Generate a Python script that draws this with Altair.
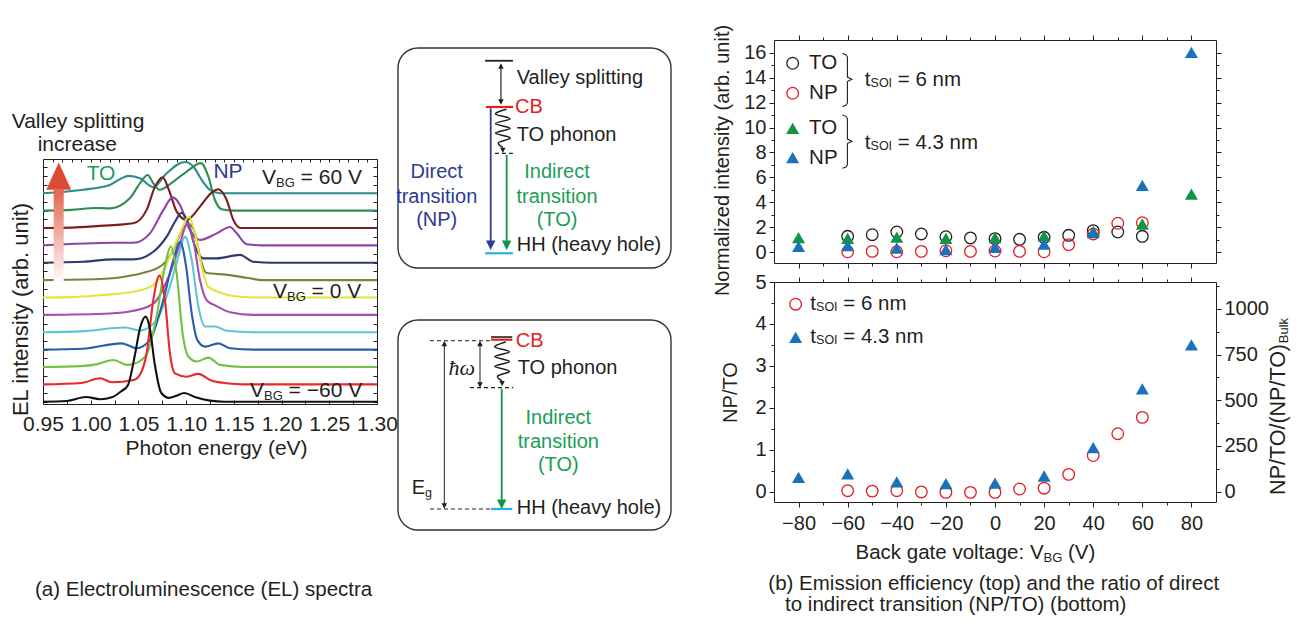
import altair as alt
import pandas as pd

W, H = 1285, 608
FONT = "Liberation Sans"
INK = "#231f20"

# ======================= DATA =======================
# (a) EL spectra, one curve per back-gate voltage (bottom -> top), offset by 1 unit each
V_STEPS = [-60, -50, -40, -30, -20, -10, 0, 10, 20, 30, 40, 50, 60]

E_M60 = [0.95, 0.975, 0.995, 1.010, 1.022, 1.032, 1.039, 1.046, 1.052, 1.0575, 1.062, 1.067, 1.074, 1.082, 1.090, 1.098, 1.110, 1.125, 1.140, 1.30]
H_M60 = [0.0, 0.04, 0.27, 0.14, 0.25, 0.60, 0.95, 2.60, 4.30, 4.90, 4.20, 2.20, 0.50, 0.22, 0.35, 0.50, 0.25, 0.06, 0.0, 0.0]
E_M50 = [0.95, 0.990, 1.010, 1.022, 1.045, 1.052, 1.0586, 1.0656, 1.0719, 1.0778, 1.083, 1.0883, 1.1006, 1.1128, 1.125, 1.1425, 1.160, 1.30]
H_M50 = [0.0, 0.08, 0.35, 0.12, 0.25, 0.60, 1.79, 4.86, 6.26, 4.86, 1.79, 0.63, 0.44, 0.60, 0.25, 0.06, 0.0, 0.0]
E_M40 = [0.95, 0.990, 1.006, 1.024, 1.038, 1.052, 1.060, 1.069, 1.0778, 1.0838, 1.090, 1.0963, 1.1023, 1.111, 1.1233, 1.1355, 1.160, 1.30]
H_M40 = [0.0, 0.05, 0.15, 0.40, 0.12, 0.35, 0.90, 2.90, 5.80, 6.95, 5.40, 1.94, 0.60, 0.31, 0.54, 0.12, 0.0, 0.0]
E_M30 = [0.95, 0.992, 1.0324, 1.0481, 1.0621, 1.0761, 1.0866, 1.0936, 1.0999, 1.1058, 1.1117, 1.1198, 1.1337, 1.146, 1.170, 1.30]
H_M30 = [0.0, 0.05, 0.36, 0.08, 0.56, 2.86, 5.16, 6.20, 4.80, 2.09, 0.56, 0.17, 0.36, 0.08, 0.0, 0.0]
E_M20 = [0.95, 0.990, 1.0359, 1.0516, 1.0691, 1.083, 1.0918, 1.0988, 1.1058, 1.1128, 1.1198, 1.1302, 1.1425, 1.170, 1.30]
H_M20 = [0.0, 0.05, 0.27, 0.10, 0.71, 2.63, 4.36, 5.50, 4.16, 1.48, 0.33, 0.33, 0.08, 0.0, 0.0]
E_M10 = [0.95, 1.020, 1.0447, 1.0656, 1.083, 1.0936, 1.1012, 1.1075, 1.1145, 1.1215, 1.132, 1.146, 1.170, 1.30]
H_M10 = [0.0, 0.08, 0.23, 0.65, 2.38, 4.10, 5.26, 4.30, 2.00, 0.84, 0.50, 0.15, 0.0, 0.0]
E_0 = [0.95, 0.980, 1.0097, 1.0447, 1.0656, 1.083, 1.0936, 1.103, 1.1093, 1.1163, 1.1233, 1.1355, 1.1495, 1.170, 1.30]
H_0 = [0.0, 0.02, 0.13, 0.33, 0.71, 2.34, 3.69, 4.65, 3.69, 1.77, 0.61, 0.29, 0.08, 0.0, 0.0]
E_P10 = [0.95, 1.010, 1.0447, 1.0726, 1.0866, 1.0953, 1.1023, 1.1093, 1.1145, 1.121, 1.143, 1.165, 1.180, 1.30]
H_P10 = [0.0, 0.06, 0.29, 0.77, 1.73, 2.78, 3.26, 2.70, 1.34, 0.42, 0.30, 0.12, 0.0, 0.0]
E_P20 = [0.95, 0.992, 1.0237, 1.045, 1.0656, 1.0796, 1.0883, 1.0953, 1.1023, 1.1093, 1.118, 1.132, 1.1564, 1.1704, 1.190, 1.30]
H_P20 = [0.0, 0.06, 0.19, 0.19, 0.63, 1.50, 2.36, 2.88, 2.26, 0.92, 0.25, 0.25, 0.45, 0.06, 0.0, 0.0]
E_P30 = [0.95, 1.0254, 1.045, 1.0621, 1.0761, 1.0859, 1.0936, 1.1023, 1.1145, 1.132, 1.146, 1.153, 1.1634, 1.180, 1.30]
H_P30 = [0.0, 0.15, 0.15, 0.69, 2.03, 2.76, 2.32, 1.07, 0.31, 0.69, 1.06, 0.69, 0.06, 0.0, 0.0]
E_P40 = [0.95, 0.980, 1.0097, 1.0447, 1.0586, 1.0674, 1.0754, 1.0813, 1.0901, 1.1006, 1.1145, 1.127, 1.1337, 1.1425, 1.1495, 1.157, 1.30]
H_P40 = [0.0, 0.02, 0.12, 0.27, 1.04, 2.38, 2.92, 2.28, 0.94, 0.46, 1.23, 2.05, 2.23, 1.61, 0.46, 0.0, 0.0]
E_P50 = [0.95, 0.980, 1.005, 1.020, 1.041, 1.0516, 1.0597, 1.0656, 1.072, 1.0866, 1.1006, 1.1156, 1.1233, 1.1302, 1.1372, 1.150, 1.30]
H_P50 = [0.0, 0.04, 0.15, 0.13, 0.71, 1.57, 2.05, 1.57, 1.20, 1.67, 2.25, 2.73, 1.96, 0.61, 0.08, 0.0, 0.0]
E_P60 = [0.95, 0.990, 1.020, 1.032, 1.0394, 1.0516, 1.0656, 1.0796, 1.0988, 1.1075, 1.1163, 1.125, 1.135, 1.30]
H_P60 = [0.0, 0.19, 0.48, 0.85, 1.00, 0.86, 0.35, 1.15, 1.80, 1.54, 0.77, 0.19, 0.0, 0.0]

SPEC_E = [E_M60, E_M50, E_M40, E_M30, E_M20, E_M10, E_0, E_P10, E_P20, E_P30, E_P40, E_P50, E_P60]
SPEC_H = [H_M60, H_M50, H_M40, H_M30, H_M20, H_M10, H_0, H_P10, H_P20, H_P30, H_P40, H_P50, H_P60]
ENERGY_TICKS = [0.95, 1.00, 1.05, 1.10, 1.15, 1.20, 1.25, 1.30]

# (b) top: normalized intensity vs back-gate voltage
VBG_6 = [-60, -50, -40, -30, -20, -10, 0, 10, 20, 30, 40, 50, 60]
TO_6 = [1.26, 1.39, 1.61, 1.45, 1.23, 1.13, 1.07, 1.02, 1.18, 1.34, 1.72, 1.61, 1.26]
NP_6 = [0.02, 0.05, 0.02, 0.05, 0.10, 0.05, 0.08, 0.05, 0.02, 0.59, 1.45, 2.31, 2.35]
VBG_43 = [-80, -60, -40, -20, 0, 20, 40, 60, 80]
TO_43 = [1.15, 1.10, 1.20, 1.10, 1.15, 1.30, 1.65, 2.25, 4.66]
NP_43 = [0.45, 0.52, 0.32, 0.20, 0.38, 0.64, 1.55, 5.36, 16.05]
# (b) bottom: NP/TO ratio
RATIO_6 = [0.02, 0.01, 0.02, -0.01, -0.02, -0.02, -0.02, 0.06, 0.08, 0.41, 0.86, 1.38, 1.77]
RATIO_43 = [0.34, 0.42, 0.23, 0.19, 0.20, 0.37, 1.05, 2.45, 3.50]

VBG_TICKS = [-80, -60, -40, -20, 0, 20, 40, 60, 80]
INT_TICKS = [0, 2, 4, 6, 8, 10, 12, 14, 16]
RATIO_TICKS = [0, 1, 2, 3, 4, 5]
BULK_TICKS = [0, 250, 500, 750, 1000]
BULK_FACTOR = 229.5  # (NP/TO)/(NP/TO)_Bulk per unit NP/TO

# ======================= STYLE / LAYOUT =======================
CURVE_COLORS = ["#111111", "#e8282b", "#74c043", "#2a5caa", "#5cc6d6", "#a24fb0", "#e3e43c",
                "#7f7f3f", "#2e3a6b", "#8b44ac", "#7b1e22", "#2f8b51", "#2b8c8c"]
GREEN_T = "#1a9e55"
BLUE_T = "#2e3a94"
RED = "#e31e24"
GREEN_M = "#129447"
BLUE_M = "#1b72bb"
CYAN = "#29b1e6"

PA = dict(xd=[0.95, 1.30], xr=[35, 369], yd=[-0.132, 13.97], yr=[396, 151])
PT = dict(xd=[-90, 90], xr=[766, 1208], yd=[-0.884, 17.04], yr=[255, 32])
PB = dict(xd=[-90, 90], xr=[766, 1208], yd=[-0.25, 5.0], yr=[494, 274])
PK = dict(xd=[-90, 90], xr=[766, 1208], yd=[-0.25 * BULK_FACTOR, 5.0 * BULK_FACTOR], yr=[494, 274])
D1 = dict(xd=[0, 1], xr=[390, 663], yd=[0, 1], yr=[260, 40])
D2 = dict(xd=[0, 1], xr=[390, 663], yd=[0, 1], yr=[522, 312])

CW = {'V': .667, 'B': .667, 'G': .778, ' ': .278, '=': .584, '−': .584, '.': .278, 't': .278, 'S': .667,
      'O': .778, 'I': .278, 'n': .556, 'm': .833, 'E': .667, 'g': .556, 'N': .722, 'P': .667, '/': .278,
      'T': .611, '(': .333, ')': .333, 'u': .556, 'l': .222, 'k': .5, 'a': .556, 'c': .5, 'e': .556,
      'o': .556, 'v': .5, ':': .278, 'r': .333, 'h': .556, 'y': .5, 's': .5, 'p': .556, 'i': .222, 'd': .556}


def tw(s, size):
    return sum(CW.get(c, 0.556) for c in s) * size


def X(p, f="x", axis=None):
    return alt.X(f"{f}:Q", scale=alt.Scale(domain=p["xd"], range=p["xr"], nice=False, zero=False), axis=axis)


def Y(p, f="y", axis=None):
    return alt.Y(f"{f}:Q", scale=alt.Scale(domain=p["yd"], range=p["yr"], nice=False, zero=False), axis=axis)


def axis(orient, at, values, size, labels=False, domain=True, **kw):
    off = {"bottom": at - H, "top": -at, "left": -at, "right": at - W}[orient]
    d = dict(orient=orient, offset=off, values=values, grid=False, domain=domain, labels=labels,
             labelOverlap=False, labelFlush=False, labelBound=False, title="",
             domainColor=INK, tickColor=INK, domainWidth=1, tickWidth=1)
    if size > 0:
        d.update(ticks=True, tickSize=size)
    else:
        d.update(ticks=False)
    d.update(kw)
    return alt.Axis(**d)


def axis_layer(p, xaxis=None, yaxis=None):
    df = pd.DataFrame({"x": [p["xd"][0]], "y": [p["yd"][0]]})
    return alt.Chart(df).mark_point(opacity=0).encode(x=X(p, axis=xaxis), y=Y(p, axis=yaxis))


def txt(p, x, y, text, size, color=INK, align="left", dx=0, dy=0, angle=0, **kw):
    df = pd.DataFrame({"x": [x], "y": [y]})
    props = dict(text=text, fontSize=size, color=color, align=align, baseline="middle", font=FONT)
    if dx:
        props["dx"] = dx
    if dy:
        props["dy"] = dy
    if angle:
        props["angle"] = angle
    props.update(kw)
    return alt.Chart(df).mark_text(**props).encode(x=X(p), y=Y(p))


def rich(p, x, y, parts, color=INK, anchor="left", angle=0):
    total = sum(tw(t, s) for t, s, _ in parts)
    cum = {"left": 0.0, "center": -total / 2, "right": -total}[anchor]
    out = []
    for t, s, dy in parts:
        lead = len(t) - len(t.lstrip())
        out.append(txt(p, x, y, t.strip(), s, color=color, dx=round(cum + tw(t[:lead], s), 1), dy=dy, angle=angle))
        cum += tw(t, s)
    return out


def seg(p, x1, x2, y1, y2, color=INK, width=1.2, dash=None):
    df = pd.DataFrame({"x": [x1], "x2": [x2], "y": [y1], "y2": [y2]})
    props = dict(color=color, strokeWidth=width)
    if dash:
        props["strokeDash"] = dash
    return alt.Chart(df).mark_rule(**props).encode(x=X(p), x2="x2:Q", y=Y(p), y2="y2:Q")


def head(p, x, y, direction, color, size):
    shape = "M-1,-1L1,-1L0,1Z" if direction == "down" else "M-1,1L1,1L0,-1Z"
    df = pd.DataFrame({"x": [x], "y": [y]})
    return alt.Chart(df).mark_point(shape=shape, filled=True, size=size, color=color, opacity=1,
                                    strokeWidth=0).encode(x=X(p), y=Y(p))


WAVE_SHAPE = [0.5, -1, 1, -1, 1, -1, 1, -0.6, 0]


def wave(p, xc, y_top, y_bot, amp):
    n = len(WAVE_SHAPE)
    df = pd.DataFrame({"x": [xc + amp * s for s in WAVE_SHAPE],
                       "y": [y_top + (y_bot - y_top) * k / (n - 1) for k in range(n)],
                       "o": list(range(n))})
    return alt.Chart(df).mark_line(color=INK, strokeWidth=1.5, interpolate="cardinal").encode(
        x=X(p), y=Y(p), order="o:Q")


def box(p):
    df = pd.DataFrame({"x": [0], "x2": [1], "y": [0], "y2": [1]})
    return alt.Chart(df).mark_rect(fill="transparent", stroke="#333333", strokeWidth=1.4,
                                   cornerRadius=20).encode(x=X(p), x2="x2:Q", y=Y(p), y2="y2:Q")


def pts(p, xs, ys, shape, color, filled, size):
    df = pd.DataFrame({"x": xs, "y": ys})
    props = dict(shape=shape, filled=filled, color=color, size=size, opacity=1)
    props["strokeWidth"] = 0 if filled else 1.3
    return alt.Chart(df).mark_point(**props).encode(x=X(p), y=Y(p))


def brace(p, xh, xv, xn, top, nub, bot):
    s = 0.07 * (top - bot)
    xs = [xh, xv - 0.3 * (xv - xh), xv, xv, xn, xv, xv, xv - 0.3 * (xv - xh), xh]
    ys = [top, top - 0.35 * s, top - s, nub + 0.6 * s, nub, nub - 0.6 * s, bot + s, bot + 0.35 * s, bot]
    df = pd.DataFrame({"x": xs, "y": ys, "o": list(range(len(xs)))})
    return alt.Chart(df).mark_line(color=INK, strokeWidth=1.1).encode(x=X(p), y=Y(p), order="o:Q")


CIRC, TRI = 135, 170

# ======================= PANEL (a) =======================
A = []
for i in reversed(range(len(V_STEPS))):
    df = pd.DataFrame({"E": SPEC_E[i], "I": [i + h for h in SPEC_H[i]]})
    A.append(alt.Chart(df).mark_line(color=CURVE_COLORS[i], strokeWidth=2.1, interpolate="monotone")
             .encode(x=X(PA, "E"), y=Y(PA, "I")))

# gradient arrow "valley splitting increase"
A.append(alt.Chart(pd.DataFrame({"x": [0.9612], "x2": [0.9717], "y": [6.85], "y2": [12.2]}))
         .mark_rect(color={"gradient": "linear", "x1": 0, "y1": 0, "x2": 0, "y2": 1,
                           "stops": [{"offset": 0, "color": "#e2654f"}, {"offset": 1, "color": "#ffffff"}]})
         .encode(x=X(PA), x2="x2:Q", y=Y(PA), y2="y2:Q"))
A.append(alt.Chart(pd.DataFrame({"x": [0.9665], "y": [12.98]}))
         .mark_point(shape="M0,-1.09L1,1.09L-1,1.09Z", filled=True, size=625, color="#df4a36", opacity=1, strokeWidth=0)
         .encode(x=X(PA), y=Y(PA)))

A.append(txt(PA, 0.9867, 16.12, "Valley splitting", 21, align="center"))
A.append(txt(PA, 0.9860, 14.78, "increase", 21, align="center"))
A.append(txt(PA, 1.0108, 13.11, "TO", 21, color=GREEN_T, align="center"))
A.append(txt(PA, 1.1439, 13.24, "NP", 21, color=BLUE_T, align="center"))
A += rich(PA, 1.1795, 12.86, [("V", 21, 0), ("BG", 13, 5), (" = 60 V", 21, 0)])
A += rich(PA, 1.1910, 6.33, [("V", 21, 0), ("BG", 13, 5), (" = 0 V", 21, 0)])
A += rich(PA, 1.1669, 0.62, [("V", 21, 0), ("BG", 13, 5), (" = −60 V", 21, 0)])
A.append(txt(PA, 0.9416, -10.84, "(a) Electroluminescence (EL) spectra", 20.5))

A_XB = [round(0.95 + 0.025 * k, 3) for k in range(15)]
A_XT = [round(0.95 + 0.01 * k, 2) for k in range(36)]
A_Y = [0.5 * k for k in range(28)]
A.append(axis_layer(PA, xaxis=axis("bottom", 396, ENERGY_TICKS, 0, labels=True, format=".2f",
                                     labelFontSize=21, labelPadding=9, title="Photon energy (eV)",
                                     titleFontSize=21, titleX=208, titleY=44, titleBaseline="middle")))
A.append(axis_layer(PA, xaxis=axis("top", 396, A_XB, 4, domain=False)))
A.append(axis_layer(PA, xaxis=axis("bottom", 151, A_XT, 3)))
A.append(axis_layer(PA, yaxis=axis("left", 35, [], 0, title="EL intensity (arb. unit)", titleFontSize=22,
                                   titleX=-23, titleY=301, titleBaseline="middle", titleAngle=270,
                                   titleAlign="center")))
A.append(axis_layer(PA, yaxis=axis("right", 35, A_Y, 4, domain=False)))
A.append(axis_layer(PA, yaxis=axis("left", 369, A_Y, 4)))
panel_a = alt.layer(*A).resolve_axis(x="independent", y="independent")

# ======================= DIAGRAMS =======================
DG = []
# box 1: valley splitting / direct & indirect transitions
DG.append(box(D1))
DG.append(seg(D1, 0.319, 0.421, 0.942, 0.942, INK, 1.8))
DG.append(seg(D1, 0.377, 0.377, 0.918, 0.7545, INK, 1.2))
DG.append(head(D1, 0.377, 0.918, "up", INK, 30))
DG.append(head(D1, 0.377, 0.7545, "down", INK, 30))
DG.append(seg(D1, 0.322, 0.422, 0.732, 0.732, RED, 2.2))
DG.append(wave(D1, 0.384, 0.722, 0.548, 0.027))
DG.append(head(D1, 0.384, 0.535, "down", INK, 28))
DG.append(seg(D1, 0.355, 0.422, 0.521, 0.521, INK, 1.3, dash=[4, 3]))
DG.append(seg(D1, 0.3396, 0.3396, 0.726, 0.11, BLUE_T, 1.8))
DG.append(head(D1, 0.3396, 0.103, "down", BLUE_T, 90))
DG.append(seg(D1, 0.398, 0.398, 0.514, 0.11, GREEN_M, 1.8))
DG.append(head(D1, 0.398, 0.103, "down", GREEN_M, 90))
DG.append(seg(D1, 0.319, 0.421, 0.067, 0.067, CYAN, 2.2))
DG.append(txt(D1, 0.4348, 0.8623, "Valley splitting", 20))
DG.append(txt(D1, 0.4286, 0.732, "CB", 20, color=RED))
DG.append(txt(D1, 0.4348, 0.6045, "TO phonon", 20))
DG.append(txt(D1, 0.4348, 0.1045, "HH (heavy hole)", 20))
for t, yy in zip(["Direct", "transition", "(NP)"], [0.4377, 0.3241, 0.2182]):
    DG.append(txt(D1, 0.1418, yy, t, 20, color=BLUE_T, align="center"))
for t, yy in zip(["Indirect", "transition", "(TO)"], [0.4377, 0.3241, 0.2182]):
    DG.append(txt(D1, 0.5824, yy, t, 20, color=GREEN_T, align="center"))
diag1 = alt.layer(*DG)

DG2 = []
DG2.append(box(D2))
DG2.append(seg(D2, 0.3407, 0.4187, 0.919, 0.919, INK, 1.6))
DG2.append(seg(D2, 0.3407, 0.4187, 0.9062, 0.9062, RED, 2.2))
DG2.append(seg(D2, 0.1172, 0.3407, 0.9014, 0.9014, INK, 1.0, dash=[4, 3]))
DG2.append(seg(D2, 0.2637, 0.4223, 0.6776, 0.6776, INK, 1.3, dash=[4, 3]))
DG2.append(seg(D2, 0.1172, 0.3407, 0.10, 0.10, INK, 1.0, dash=[4, 3]))
DG2.append(seg(D2, 0.1696, 0.1696, 0.888, 0.114, INK, 1.0))
DG2.append(head(D2, 0.1696, 0.888, "up", INK, 30))
DG2.append(head(D2, 0.1696, 0.114, "down", INK, 30))
DG2.append(seg(D2, 0.3004, 0.3004, 0.888, 0.691, INK, 1.0))
DG2.append(head(D2, 0.3004, 0.888, "up", INK, 30))
DG2.append(head(D2, 0.3004, 0.691, "down", INK, 30))
DG2.append(wave(D2, 0.3813, 0.895, 0.71, 0.027))
DG2.append(head(D2, 0.3813, 0.697, "down", INK, 28))
DG2.append(seg(D2, 0.3799, 0.3799, 0.671, 0.13, GREEN_M, 1.8))
DG2.append(head(D2, 0.3799, 0.123, "down", GREEN_M, 90))
DG2.append(seg(D2, 0.3407, 0.4187, 0.10, 0.10, CYAN, 2.2))
DG2.append(txt(D2, 0.4311, 0.90, "CB", 20, color=RED))
DG2.append(txt(D2, 0.4385, 0.77, "TO phonon", 20))
DG2.append(txt(D2, 0.2333, 0.77, "ħω", 22, align="center", font="Liberation Serif", fontStyle="italic"))
for t, yy in zip(["Indirect", "transition", "(TO)"], [0.5319, 0.4205, 0.3095]):
    DG2.append(txt(D2, 0.5872, yy, t, 20, color=GREEN_T, align="center"))
DG2 += rich(D2, 0.0502, 0.1986, [("E", 20, 0), ("g", 12.5, 5)])
DG2.append(txt(D2, 0.4348, 0.1062, "HH (heavy hole)", 20))
diag2 = alt.layer(*DG2)

# ======================= PANEL (b) top =======================
T = []
T.append(pts(PT, VBG_6, TO_6, "circle", INK, False, CIRC))
T.append(pts(PT, VBG_6, NP_6, "circle", RED, False, CIRC))
T.append(pts(PT, VBG_43, TO_43, "triangle-up", GREEN_M, True, TRI))
T.append(pts(PT, VBG_43, NP_43, "triangle-up", BLUE_M, True, TRI))
# legend
T.append(pts(PT, [-82.4], [15.17], "circle", INK, False, CIRC))
T.append(pts(PT, [-82.4], [12.76], "circle", RED, False, CIRC))
T.append(pts(PT, [-82.4], [9.94], "triangle-up", GREEN_M, True, TRI))
T.append(pts(PT, [-82.4], [7.58], "triangle-up", BLUE_M, True, TRI))
for t, yy in zip(["TO", "NP", "TO", "NP"], [15.17, 12.76, 9.94, 7.58]):
    T.append(txt(PT, -75.7, yy, t, 20.5))
T.append(brace(PT, -62.1, -60.1, -58.3, 15.97, 13.88, 11.68))
T.append(brace(PT, -62.1, -60.1, -58.3, 11.01, 8.90, 6.73))
T += rich(PT, -53.0, 13.83, [("t", 20.5, 0), ("SOI", 12.5, 3), (" = 6 nm", 20.5, 0)])
T += rich(PT, -53.0, 8.74, [("t", 20.5, 0), ("SOI", 12.5, 3), (" = 4.3 nm", 20.5, 0)])

VBG_MINOR = [-70, -50, -30, -10, 10, 30, 50, 70]
INT_MINOR = [1, 3, 5, 7, 9, 11, 13, 15]
T.append(axis_layer(PT, yaxis=axis("left", 766, INT_TICKS, 5, labels=True, labelFontSize=20, labelPadding=3,
                                   title="Normalized intensity (arb. unit)", titleFontSize=20,
                                   titleX=-52, titleY=152, titleBaseline="middle", titleAngle=270,
                                   titleAlign="center")))
T.append(axis_layer(PT, yaxis=axis("left", 766, INT_MINOR, 3, domain=False)))
T.append(axis_layer(PT, yaxis=axis("right", 1208, INT_TICKS, 5)))
T.append(axis_layer(PT, yaxis=axis("right", 1208, INT_MINOR, 3, domain=False)))
T.append(axis_layer(PT, xaxis=axis("bottom", 255, VBG_TICKS, 5)))
T.append(axis_layer(PT, xaxis=axis("bottom", 255, VBG_MINOR, 3, domain=False)))
T.append(axis_layer(PT, xaxis=axis("top", 32, VBG_TICKS, 5)))
T.append(axis_layer(PT, xaxis=axis("top", 32, VBG_MINOR, 3, domain=False)))
panel_t = alt.layer(*T).resolve_axis(x="independent", y="independent")

# ======================= PANEL (b) bottom =======================
B = []
B.append(pts(PB, VBG_6, RATIO_6, "circle", RED, False, CIRC))
B.append(pts(PB, VBG_43, RATIO_43, "triangle-up", BLUE_M, True, TRI))
B.append(pts(PB, [-81.2], [4.47], "circle", RED, False, CIRC))
B.append(pts(PB, [-81.2], [3.68], "triangle-up", BLUE_M, True, TRI))
B += rich(PB, -75.2, 4.47, [("t", 20.5, 0), ("SOI", 12.5, 3), (" = 6 nm", 20.5, 0)])
B += rich(PB, -75.2, 3.68, [("t", 20.5, 0), ("SOI", 12.5, 3), (" = 4.3 nm", 20.5, 0)])
B += rich(PB, -56.8, -1.47, [("Back gate voltage: V", 20.5, 0), ("BG", 13, 5), (" (V)", 20.5, 0)])
B += rich(PB, 115.7, -0.08, [("NP/TO/(NP/TO)", 21.5, 0), ("Bulk", 13, 4.5)], angle=270)
B.append(txt(PB, -92.3, -2.21, "(b) Emission efficiency (top) and the ratio of direct", 20.5))
B.append(txt(PB, -85.5, -2.71, "to indirect transition (NP/TO) (bottom)", 20.5))

RATIO_MINOR = [0.5, 1.5, 2.5, 3.5, 4.5]
B.append(axis_layer(PB, yaxis=axis("left", 766, RATIO_TICKS, 5, labels=True, labelFontSize=20, labelPadding=3,
                                   title="NP/TO", titleFontSize=20, titleX=-44, titleY=384,
                                   titleBaseline="middle", titleAngle=270, titleAlign="center")))
B.append(axis_layer(PB, yaxis=axis("left", 766, RATIO_MINOR, 3, domain=False)))
B.append(axis_layer(PB, xaxis=axis("bottom", 494, VBG_TICKS, 5, labels=True, format="d",
                                     labelFontSize=20, labelPadding=6)))
B.append(axis_layer(PB, xaxis=axis("bottom", 494, VBG_MINOR, 3, domain=False)))
B.append(axis_layer(PB, xaxis=axis("top", 274, VBG_TICKS, 5)))
B.append(axis_layer(PB, xaxis=axis("top", 274, VBG_MINOR, 3, domain=False)))
panel_b = alt.layer(*B).resolve_axis(x="independent", y="independent")

K = []
K.append(axis_layer(PK, yaxis=axis("right", 1208, BULK_TICKS, 5, labels=True, format="d",
                                   labelFontSize=20, labelPadding=3)))
K.append(axis_layer(PK, yaxis=axis("right", 1208, [125, 375, 625, 875, 1125], 3, domain=False)))
panel_k = alt.layer(*K).resolve_axis(x="independent", y="independent")

chart = (
    alt.layer(panel_a, diag1, diag2, panel_t, panel_b, panel_k)
    .resolve_scale(x="independent", y="independent")
    .properties(width=W, height=H, padding=0, autosize=alt.AutoSizeParams(type="none"))
    .configure_view(strokeWidth=0)
    .configure_axis(labelFont=FONT, titleFont=FONT, labelColor=INK, titleColor=INK,
                    titleFontWeight="normal")
)

chart.save("out.html", embed_options={"renderer": "svg", "actions": False})
